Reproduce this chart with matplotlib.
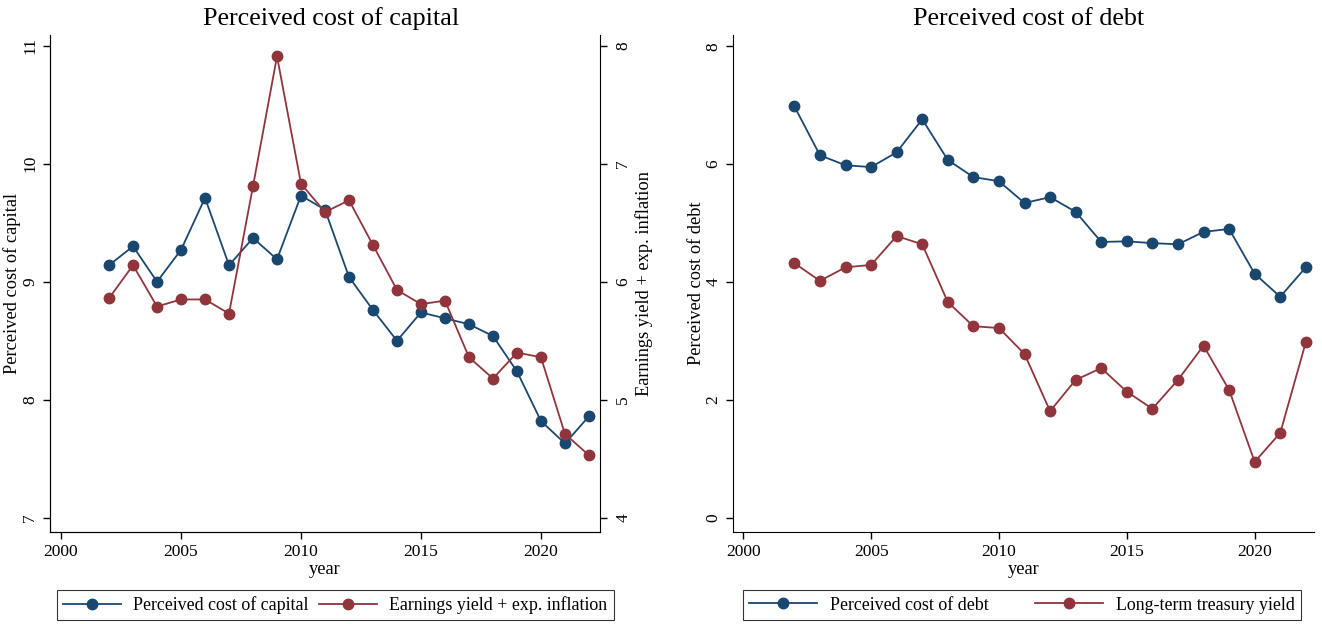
import matplotlib
matplotlib.use("Agg")
import matplotlib.pyplot as plt

years = list(range(2002, 2023))
cost_capital = [9.14, 9.30, 9.00, 9.27, 9.71, 9.14, 9.37, 9.19, 9.73, 9.61, 9.04,
                8.76, 8.50, 8.74, 8.69, 8.64, 8.54, 8.24, 7.82, 7.63, 7.86]
earnings_yield = [5.86, 6.14, 5.79, 5.85, 5.85, 5.73, 6.81, 7.91, 6.83, 6.59, 6.69,
                  6.31, 5.93, 5.81, 5.84, 5.36, 5.18, 5.40, 5.36, 4.71, 4.53]
cost_debt = [6.98, 6.15, 5.98, 5.95, 6.20, 6.76, 6.07, 5.78, 5.71, 5.34, 5.44,
             5.19, 4.68, 4.69, 4.66, 4.64, 4.85, 4.90, 4.14, 3.75, 4.25]
treasury = [4.32, 4.02, 4.25, 4.29, 4.78, 4.64, 3.66, 3.25, 3.22, 2.78, 1.81,
            2.34, 2.54, 2.14, 1.85, 2.34, 2.92, 2.17, 0.95, 1.44, 2.98]
xticks = [2000, 2005, 2010, 2015, 2020]

BLUE = "#1a476f"
RED = "#90353b"
plt.rcParams['font.family'] = ['Liberation Serif', 'DejaVu Serif']

W, H = 1322, 624
fig = plt.figure(figsize=(W / 100, H / 100), dpi=100)

def ax_rect(x0, y0, x1, y1):
    return [x0 / W, 1 - y1 / H, (x1 - x0) / W, (y1 - y0) / H]

line_kw = dict(lw=1.3, marker='o', markersize=7.5)
fs_tick = 12.5
fs_lab = 13.2
fs_title = 18.8

# Left panel
ax1 = fig.add_axes(ax_rect(50, 35, 600, 532))
l1, = ax1.plot(years, cost_capital, color=BLUE, label="Perceived cost of capital", **line_kw)
ax2 = ax1.twinx()
l2, = ax2.plot(years, earnings_yield, color=RED, label="Earnings yield + exp. inflation", **line_kw)
ax1.set_xlim(1999.54, 2022.46)
ax1.set_ylim(6.88, 11.09)
ax2.set_ylim(3.88, 8.09)
ax1.set_yticks([7, 8, 9, 10, 11])
ax2.set_yticks([4, 5, 6, 7, 8])
ax1.set_xticks(xticks)
fig.text(331 / W, 1 - 19 / H, "Perceived cost of capital", fontsize=fs_title,
         ha='center', va='center')
ax1.set_xlabel("year", fontsize=fs_lab, labelpad=1)
ax1.set_ylabel("Perceived cost of capital", fontsize=fs_lab, labelpad=1)
ax2.set_ylabel("Earnings yield + exp. inflation", fontsize=fs_lab, labelpad=3)
for a in (ax1, ax2):
    a.spines['top'].set_visible(False)
    a.tick_params(labelsize=fs_tick, length=5, width=1)
ax2.tick_params(axis='y', pad=6)
ax1.spines['right'].set_visible(False)
for lab in ax1.get_yticklabels():
    lab.set_rotation(90); lab.set_va('center')
for lab in ax2.get_yticklabels():
    lab.set_rotation(90); lab.set_va('center')
leg_kw = dict(ncol=2, fontsize=12.9, frameon=True, fancybox=False, edgecolor='black',
              handletextpad=0.7, borderpad=0.35, borderaxespad=0)
leg1 = fig.legend(handles=[l1, l2], loc='center left', handlelength=3.2,
                  bbox_to_anchor=(57 / W, 1 - 605 / H), columnspacing=0.6, **leg_kw)
leg1.get_frame().set_linewidth(0.8)

# Right panel
ax3 = fig.add_axes(ax_rect(733, 35, 1314, 532))
l3, = ax3.plot(years, cost_debt, color=BLUE, label="Perceived cost of debt", **line_kw)
l4, = ax3.plot(years, treasury, color=RED, label="Long-term treasury yield", **line_kw)
ax3.set_xlim(1999.6, 2022.32)
ax3.set_ylim(-0.24, 8.19)
ax3.set_yticks([0, 2, 4, 6, 8])
ax3.set_xticks(xticks)
fig.text(1029 / W, 1 - 19 / H, "Perceived cost of debt", fontsize=fs_title,
         ha='center', va='center')
ax3.set_xlabel("year", fontsize=fs_lab, labelpad=1)
ax3.set_ylabel("Perceived cost of debt", fontsize=fs_lab, labelpad=0)
ax3.spines['top'].set_visible(False)
ax3.spines['right'].set_visible(False)
ax3.tick_params(labelsize=fs_tick, length=5, width=1)
for lab in ax3.get_yticklabels():
    lab.set_rotation(90); lab.set_va('center')
leg2 = fig.legend(handles=[l3, l4], loc='center left', handlelength=3.8,
                  bbox_to_anchor=(743 / W, 1 - 605 / H), columnspacing=2.6, **leg_kw)
leg2.get_frame().set_linewidth(0.8)

fig.savefig("out.png", dpi=100)
